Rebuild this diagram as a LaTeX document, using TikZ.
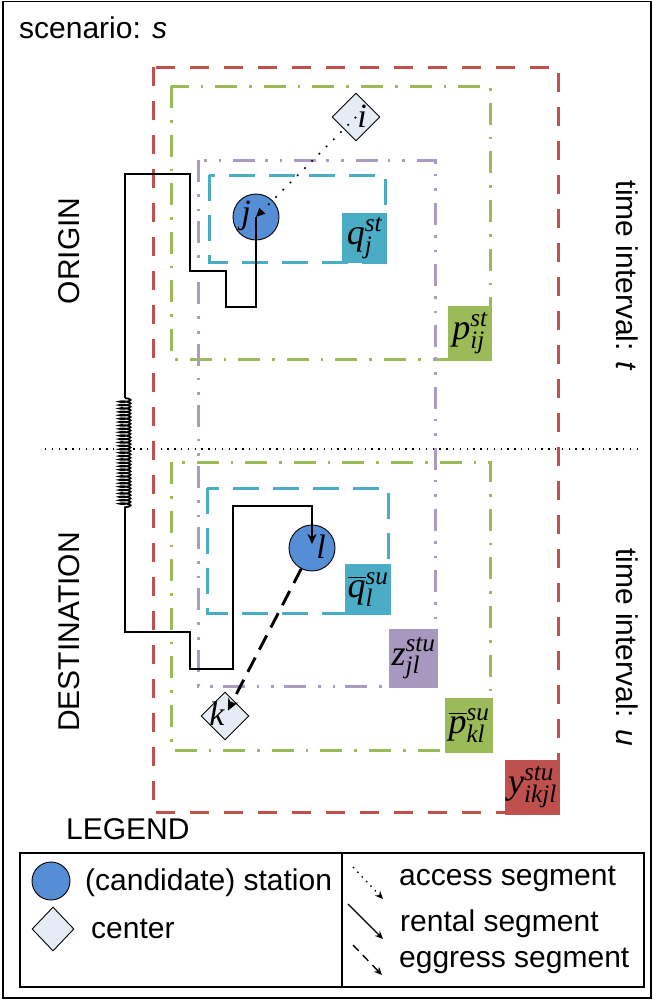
\documentclass[tikz,border=0pt]{standalone}
\usepackage{fix-cm}
\usepackage{amsmath}
\usepackage{fontspec}
\setmainfont{Liberation Sans}
\newfontfamily\tms{Liberation Serif}
\usetikzlibrary{arrows.meta,decorations.pathmorphing,shapes.geometric}
\definecolor{redc}{RGB}{192,80,77}
\definecolor{greenc}{RGB}{155,187,89}
\definecolor{purpc}{RGB}{168,152,192}
\definecolor{purpl}{RGB}{170,154,196}
\definecolor{cyanc}{RGB}{75,172,198}
\definecolor{stblue}{RGB}{85,142,213}
\definecolor{ctrfill}{RGB}{230,236,246}
\begin{document}
\begin{tikzpicture}[x=1pt,y=-1pt,
  sansL/.style={font=\fontsize{30}{30}\selectfont, inner sep=0pt},
  sansS/.style={font=\fontsize{30}{30}\selectfont, inner sep=0pt},
  frameR/.style={draw=redc, line width=3pt, dash pattern=on 19pt off 15pt},
  frameG/.style={draw=greenc, line width=3pt, dash pattern=on 22pt off 12pt on 2.6pt off 12pt},
  frameP/.style={draw=purpl, line width=3pt, dash pattern=on 22pt off 12pt on 2.6pt off 12pt on 2.6pt off 10pt},
  frameC/.style={draw=cyanc, line width=3pt, dash pattern=on 26pt off 14pt},
  station/.style={circle, draw=black, line width=0.9pt, fill=stblue, minimum size=46pt, inner sep=0pt},
  ctr/.style={diamond, draw=black, line width=0.9pt, fill=ctrfill, minimum size=48pt, inner sep=0pt},
  letter/.style={font=\tms\itshape\fontsize{34}{34}\selectfont, inner sep=0pt},
  varbox/.style={inner sep=0pt, font=\tms\fontsize{36}{36}\selectfont},
  rental/.style={line width=1.8pt},
  access/.style={line width=1.7pt, dash pattern=on 1.7pt off 8.5pt},
  egress/.style={line width=2.9pt, dash pattern=on 16pt off 9pt},
  sep/.style={line width=1.4pt, dash pattern=on 1.4pt off 5.4pt},
]
\useasboundingbox (0,0) rectangle (653,1001);
\draw[line width=1.5pt] (3,1.5) rectangle (651,998);

% separator line between origin and destination
\coordinate (h1) at (45,449);
\coordinate (h2) at (637,449);
\draw[sep] (h1) -- (h2);

% frames
\draw[frameR] (153,67) rectangle (558,812);
\draw[frameG] (171,86) rectangle (490,359);
\draw[frameG] (171,462) rectangle (490,750);
\draw[frameP] (198,160) rectangle (435,686);
\draw[frameC] (209,175) rectangle (385,262);
\draw[frameC] (207,488) rectangle (388,613);

% variable boxes
\node[varbox, fill=cyanc, minimum width=45pt, minimum height=50pt] (qb) at (364.5,238) {$\textit{q}^{\textit{st}}_{\textit{j}}$};
\node[varbox, fill=greenc, minimum width=44pt, minimum height=55pt] (pb) at (470,333.5) {$\textit{p}^{\textit{st}}_{\textit{ij}}$};
\node[varbox, fill=cyanc, minimum width=46pt, minimum height=51pt] (qbb) at (368,589.5) {$\overline{\textit{q}}^{\textit{su}}_{\textit{l}}$};
\node[varbox, fill=purpc, minimum width=49pt, minimum height=59pt] (zb) at (413.5,658.5) {$\textit{z}^{\textit{stu}}_{\textit{jl}}$};
\node[varbox, fill=greenc, minimum width=48pt, minimum height=55pt] (pbb) at (469,725.5) {$\overline{\textit{p}}^{\textit{su}}_{\textit{kl}}$};
\node[varbox, fill=redc, minimum width=55pt, minimum height=55pt] (yb) at (532.5,787.5) {$\textit{y}^{\textit{stu}}_{\textit{ikjl}}$};

% stations and centers
\node[ctr] (i) at (356,117) {};
\node[station] (j) at (256,217) {};
\node[station] (l) at (312,548) {};
\node[ctr] (k) at (225,716) {};
\node[letter] (ti) at (362,116) {i};
\node[letter] (tj) at (246,216) {j};
\node[letter] (tl) at (321,547) {l};
\node[letter] (tk) at (217,714) {k};

% access segment
\draw[access, -{Triangle[length=9pt,width=8pt]}] (i.center) -- (j.center);

% rental segment with spring
\coordinate (s1) at (125,398);
\coordinate (s2) at (125,508);
\draw[rental] (j.center) -- (256,307) -- (226,307) -- (226,271) -- (190,271) -- (190,174) -- (125,174) -- (s1);
\draw[rental, decorate, decoration={coil, segment length=3.4pt, amplitude=5.5pt, aspect=0.2}] (s1) -- (s2);
\draw[rental, -{Stealth[length=10pt,width=9pt]}, shorten >=4pt] (s2) -- (125,632) -- (190,632) -- (190,669) -- (233,669) -- (233,506) -- (312,506) -- (l.center);

% egress segment
\draw[egress, -{Stealth[length=12pt,width=11pt]}, shorten >=6pt] (l) -- (k.center);

% texts
\node[sansL, anchor=base west] (scen) at (19,38) {scenario: \textit{s}};
\node[sansL, rotate=90] (orig) at (69,251) {ORIGIN};
\node[sansL, rotate=90] (dest) at (69,632) {DESTINATION};
\node[sansL, rotate=-90] (tit) at (627,276) {time interval: \textit{t}};
\node[sansL, rotate=-90] (tiu) at (627,647) {time interval: \textit{u}};
\node[sansL, anchor=base west] (leg) at (66,839) {LEGEND};

% legend
\draw[line width=1.5pt] (20,853) rectangle (644,987);
\coordinate (d1) at (342,853);
\coordinate (d2) at (342,987);
\draw[line width=1.1pt] (d1) -- (d2);
\node[station, minimum size=38pt] (lst) at (51,881) {};
\node[ctr, minimum width=42pt, minimum height=44pt] (lct) at (53,929) {};
\node[sansS, anchor=base west] (tst) at (85,890) {(candidate) station};
\node[sansS, anchor=base west] (tct) at (91,938) {center};
\coordinate (a1) at (353,867);
\coordinate (a2) at (383,899);
\coordinate (r1) at (348,904);
\coordinate (r2) at (383,939);
\coordinate (e1) at (353,945);
\coordinate (e2) at (382,975);
\draw[line width=1.4pt, dash pattern=on 1.4pt off 5pt, -{Stealth[length=8pt,width=7pt]}] (a1) -- (a2);
\draw[line width=1.4pt, -{Stealth[length=8pt,width=7pt]}] (r1) -- (r2);
\draw[line width=1.4pt, dash pattern=on 8pt off 6pt, -{Stealth[length=8pt,width=7pt]}] (e1) -- (e2);
\node[sansS, anchor=base west] (tac) at (399,885) {access segment};
\node[sansS, anchor=base west] (tre) at (400,931) {rental segment};
\node[sansS, anchor=base west] (teg) at (399,967) {eggress segment};
\end{tikzpicture}
\end{document}
